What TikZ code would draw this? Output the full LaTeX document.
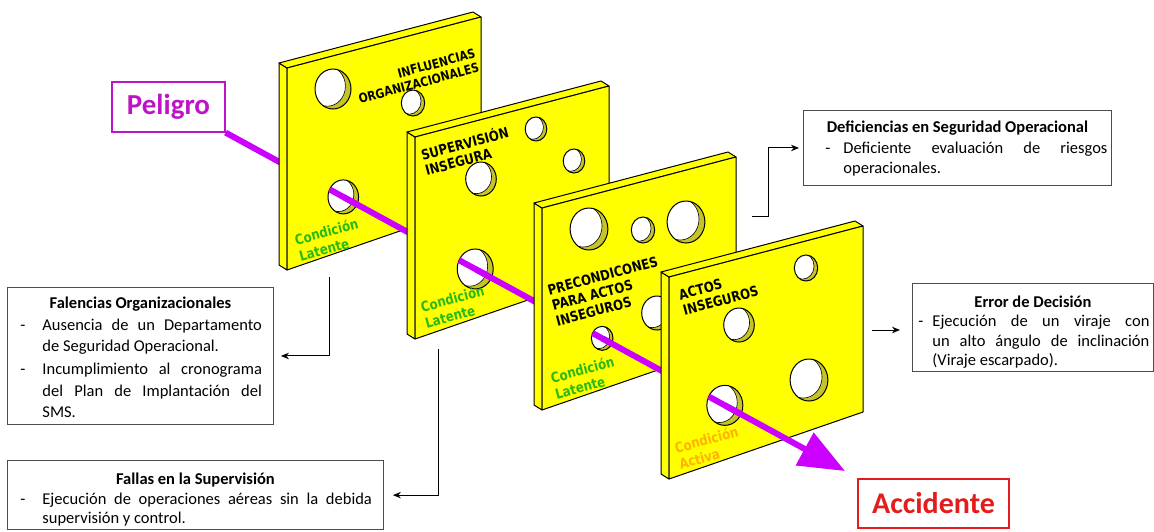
\documentclass[tikz,border=0pt]{standalone}
\usepackage{fontspec}
\setmainfont{Carlito}
\newfontfamily\platefont[FakeStretch=0.84]{DejaVu Sans}
\usetikzlibrary{arrows.meta,calc}

\definecolor{slabyellow}{RGB}{255,255,0}
\definecolor{holewall}{RGB}{196,196,40}
\definecolor{raycol}{RGB}{204,0,255}
\definecolor{hazardcol}{RGB}{190,20,200}
\definecolor{accidentcol}{RGB}{228,28,28}
\definecolor{latentcol}{RGB}{40,185,20}
\definecolor{activecol}{RGB}{255,178,0}

\tikzset{
  slab/.style={fill=slabyellow, draw=black, line width=1pt, line join=round},
  ray/.style={draw=raycol, line width=6pt},
  hazard/.style={draw=hazardcol, line width=1.2pt, text=hazardcol,
    font=\bfseries\fontsize{29}{32}\selectfont,
    minimum width=113pt, minimum height=50pt},
  accident/.style={hazard, draw=accidentcol, text=accidentcol,
    font=\bfseries\fontsize{30}{33}\selectfont,
    minimum width=151pt, minimum height=49pt},
  infobox/.style={draw=black!70, line width=0.9pt, anchor=north west,
    align=justify, inner ysep=0pt},
  headlbl/.style={font=\platefont\bfseries\fontsize{14}{16}\selectfont,
    inner sep=0pt, rotate=15, align=left, anchor=west},
  condlbl/.style={headlbl, font=\platefont\bfseries\fontsize{14}{16.5}\selectfont},
  link/.style={draw=black, line width=1pt, -{Stealth[length=8pt,width=6.5pt]}}
}

% one slice: left x and top y of its front face
\newcommand\slab[2]{%
  \filldraw[slab] (#1,#2) -- ++(0,202) -- ++(-8,-5) -- ++(0,-202) -- cycle;
  \filldraw[slab] (#1,#2) -- ++(194,-51) -- ++(-8,-5) -- ++(-194,51) -- cycle;
  \filldraw[slab] (#1,#2) -- ++(194,-51) -- ++(0,186) -- ++(-194,67) -- cycle;
}
% hole: centre, radius
\newcommand\hole[2]{%
  \begin{scope}
    \clip (#1) ellipse [x radius={0.9*#2}, y radius=#2];
    \fill[holewall] (#1) ellipse [x radius={0.9*#2}, y radius=#2];
    \filldraw[fill=white, draw=black, line width=0.6pt]
      ([shift={(-0.28*#2,-0.14*#2)}]#1) ellipse [x radius={0.9*#2}, y radius=#2];
  \end{scope}
  \draw[line width=1pt] (#1) ellipse [x radius={0.9*#2}, y radius=#2];
}
% ray seen through a hole
\newcommand\rayhole[2]{%
  \begin{scope}
    \clip (#1) ellipse [x radius={0.9*#2}, y radius=#2];
    \draw[ray] (peligro.south east) -- (tip);
  \end{scope}
}

\newlength\dashoff
\newlength\dashhang
\newcommand\setdash[2]{\setlength\dashoff{#1}\setlength\dashhang{#2}\lineskip=0pt}
\newcommand\boxtitle[2][0pt]{\noindent\makebox[\hsize]{\rule{0pt}{#1}\bfseries #2}}
\newcommand\boxitem[1]{\par\noindent
  \makebox[\dashhang][l]{\hspace{\dashoff}-}%
  \parbox[t]{\dimexpr\hsize-\dashhang\relax}{\strut#1\strut}}

\begin{document}
\begin{tikzpicture}[x=1pt, y=-1pt]
\useasboundingbox (0,0) rectangle (1154,531);

\node[hazard] (peligro) at (168.5,107) {Peligro};
\node[accident] (accidente) at (933.5,503.5) {Accidente};

\coordinate (tip) at (845,471);
\coordinate (h1) at ($(peligro.south east)!0.19!(tip)$);
\coordinate (h2) at ($(peligro.south east)!0.403!(tip)$);
\coordinate (h3) at ($(peligro.south east)!0.608!(tip)$);
\coordinate (h4) at ($(peligro.south east)!0.806!(tip)$);

\draw[ray] (peligro.south east) -- (h1);

% slice 1
\slab{287}{68}
\hole{333,89}{20}
\hole{413,103}{13}
\hole{h1}{17}
\rayhole{h1}{17}
\draw[ray] (h1) -- (h2);
\node[headlbl, anchor=east, align=right,
  font=\platefont\bfseries\fontsize{12.8}{14.5}\selectfont] (lblorg) at (477,60)
  {INFLUENCIAS\\ORGANIZACIONALES};
\node[condlbl, text=latentcol] (condorg) at (297,248) {Condición\\Latente};

% slice 2
\slab{415}{137}
\hole{536,129}{12}
\hole{574,161}{12}
\hole{481,179}{17}
\hole{h2}{20}
\rayhole{h2}{20}
\draw[ray] (h2) -- (h3);
\node[headlbl] (lblsup) at (423,162) {SUPERVISIÓN\\INSEGURA};
\node[condlbl, text=latentcol] (condsup) at (423,315) {Condición\\Latente};

% slice 3
\slab{542}{208}
\hole{589,229}{21}
\hole{643,230}{13}
\hole{686,222}{21}
\hole{657,313}{17}
\hole{h3}{12}
\rayhole{h3}{12}
\draw[ray] (h3) -- (h4);
\node[headlbl] (lblprec) at (552,306) {PRECONDICONES\\PARA ACTOS\\INSEGUROS};
\node[condlbl, text=latentcol] (condprec) at (553,386) {Condición\\Latente};

% slice 4
\slab{669}{277}
\hole{806,268}{13}
\hole{739,325}{17}
\hole{809,380}{21}
\hole{h4}{20}
\rayhole{h4}{20}
\draw[ray, -{Triangle[length=46pt,width=36pt]}] (h4) -- (tip);
\node[headlbl] (lblacts) at (681,303) {ACTOS\\INSEGUROS};
\node[condlbl, text=activecol] (condacts) at (677,456) {Condición\\Activa};

% text boxes
\node[infobox, text width=243pt, inner xsep=11.5pt, minimum height=136pt,
  font=\fontsize{16.5}{21.7}\selectfont] (falencias) at (7,287)
  {\setdash{1.5pt}{23.5pt}\boxtitle[21pt]{Falencias Organizacionales}%
   \boxitem{Ausencia de un Departamento\linebreak de Seguridad Operacional.}%
   \boxitem{Incumplimiento al cronograma\linebreak del Plan de Implantación del\linebreak SMS.}};

\node[infobox, text width=353pt, inner xsep=11.5pt, minimum height=69pt,
  font=\fontsize{16.5}{19.5}\selectfont] (fallas) at (7,460)
  {\setdash{1.5pt}{23.5pt}\boxtitle[24.5pt]{Fallas en la Supervisión}%
   \boxitem{Ejecución de operaciones aéreas sin la debida\linebreak supervisión y control.}};

\node[infobox, text width=300pt, inner xsep=4pt, minimum height=75pt,
  font=\fontsize{16.5}{20.5}\selectfont] (deficiencias) at (803,110)
  {\setdash{18pt}{36pt}\boxtitle[17pt]{Deficiencias en Seguridad Operacional}%
   \boxitem{Deficiente evaluación de riesgos\linebreak operacionales.}};

\node[infobox, text width=233pt, inner xsep=4pt, minimum height=85pt,
  font=\fontsize{16.5}{19.5}\selectfont] (error) at (912,283)
  {\setdash{2pt}{16pt}\boxtitle[24pt]{Error de Decisión}%
   \boxitem{Ejecución de un viraje con\linebreak un alto ángulo de inclinación\linebreak (Viraje escarpado).}};

% connectors
\coordinate (fromorg) at (329,277);
\draw[link, shorten >=7pt] (fromorg) |- (falencias.east);
\coordinate (fromsup) at (438,349);
\draw[link, shorten >=9pt] (fromsup) |- (fallas.east);
\coordinate (fromprec) at (752,216);
\draw[link, shorten >=4pt] (fromprec) -- ++(16,0) |- (deficiencias.west);
\coordinate (fromacts) at (872,330);
\draw[link, shorten >=12pt] (fromacts) -- (fromacts -| error.west);

\end{tikzpicture}
\end{document}
